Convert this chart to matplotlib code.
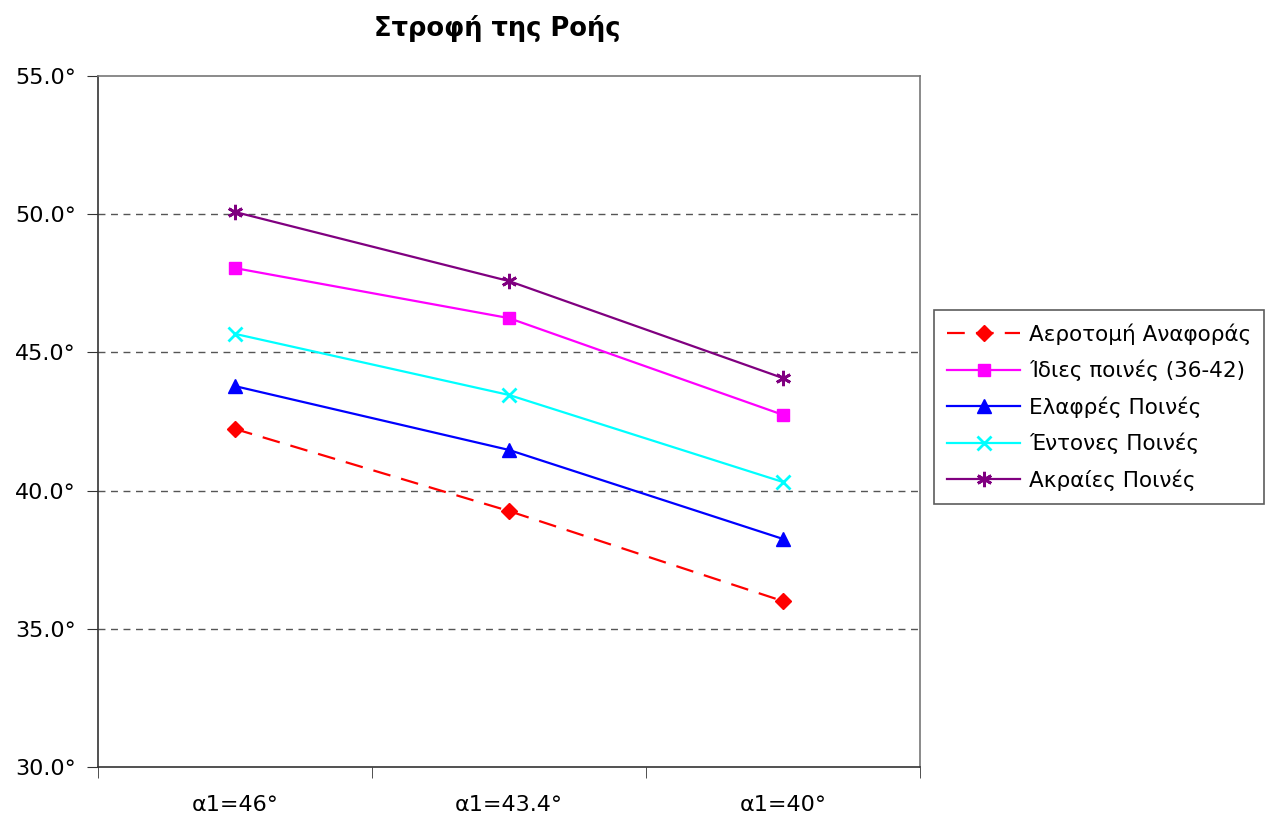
import matplotlib
matplotlib.use("Agg")
import matplotlib.pyplot as plt
from matplotlib.ticker import FuncFormatter

plt.rcParams['font.family'] = ['DejaVu Sans']

# data
categories = ['α1=46°', 'α1=43.4°', 'α1=40°']
series_names = ['Αεροτομή Αναφοράς', 'Ίδιες ποινές (36-42)', 'Ελαφρές Ποινές',
                'Έντονες Ποινές', 'Ακραίες Ποινές']
reference = [42.23, 39.26, 36.0]
same_penalties = [48.05, 46.24, 42.74]
light_penalties = [43.78, 41.47, 38.25]
strong_penalties = [45.67, 43.46, 40.31]
extreme_penalties = [50.08, 47.58, 44.07]

fig = plt.figure(figsize=(12.78, 8.19), dpi=100)
ax = fig.add_axes([0.0767, 0.0635, 0.6432, 0.8437])

x = list(range(len(categories)))

ax.plot(x, reference, color='#ff0000', ls=(0, (8, 5)), lw=1.6, marker='D', ms=8, label=series_names[0])
ax.plot(x, same_penalties, color='#ff00ff', lw=1.6, marker='s', ms=9, label=series_names[1])
ax.plot(x, light_penalties, color='#0000ff', lw=1.6, marker='^', ms=10, label=series_names[2])
ax.plot(x, strong_penalties, color='#00ffff', lw=1.6, marker='x', ms=10, mew=2, label=series_names[3])
ax.plot(x, extreme_penalties, color='#800080', lw=1.6, marker=(6, 2, 0), ms=11, mew=2, label=series_names[4])

ax.set_xlim(-0.5, 2.5)
ax.set_ylim(30, 55)
ax.set_yticks([30, 35, 40, 45, 50, 55])
ax.yaxis.set_major_formatter(FuncFormatter(lambda v, p: f'{v:.1f}°'))
for yv in [35, 40, 45, 50]:
    ax.axhline(yv, color='#555555', ls=(0, (5, 4)), lw=1, zorder=0)

ax.set_xticks(x)
ax.set_xticklabels(categories)
ax.set_xticks([-0.5, 0.5, 1.5, 2.5], minor=True)
ax.tick_params(axis='x', which='major', length=0, pad=20, labelsize=16)
ax.tick_params(axis='x', which='minor', length=8, direction='out', color='#333333')
ax.tick_params(axis='y', length=8, direction='out', labelsize=16, color='#333333', pad=8)

ax.spines['top'].set_color('#777777')
ax.spines['right'].set_color('#777777')
ax.spines['left'].set_color('#333333')
ax.spines['bottom'].set_color('#333333')
for s in ax.spines.values():
    s.set_linewidth(1.2)

fig.text(497 / 1278, 1 - 28 / 819, 'Στροφή της Ροής', fontsize=18.5, fontweight='bold',
         ha='center', va='center')

leg = ax.legend(loc='center left', bbox_to_anchor=(1.017, 0.521), fontsize=15.5,
                frameon=True, fancybox=False, edgecolor='#333333', borderpad=0.6,
                borderaxespad=0, handlelength=3.4, handletextpad=0.4, labelspacing=0.7)
leg.get_frame().set_linewidth(1.2)

fig.savefig('out.png', dpi=100)
